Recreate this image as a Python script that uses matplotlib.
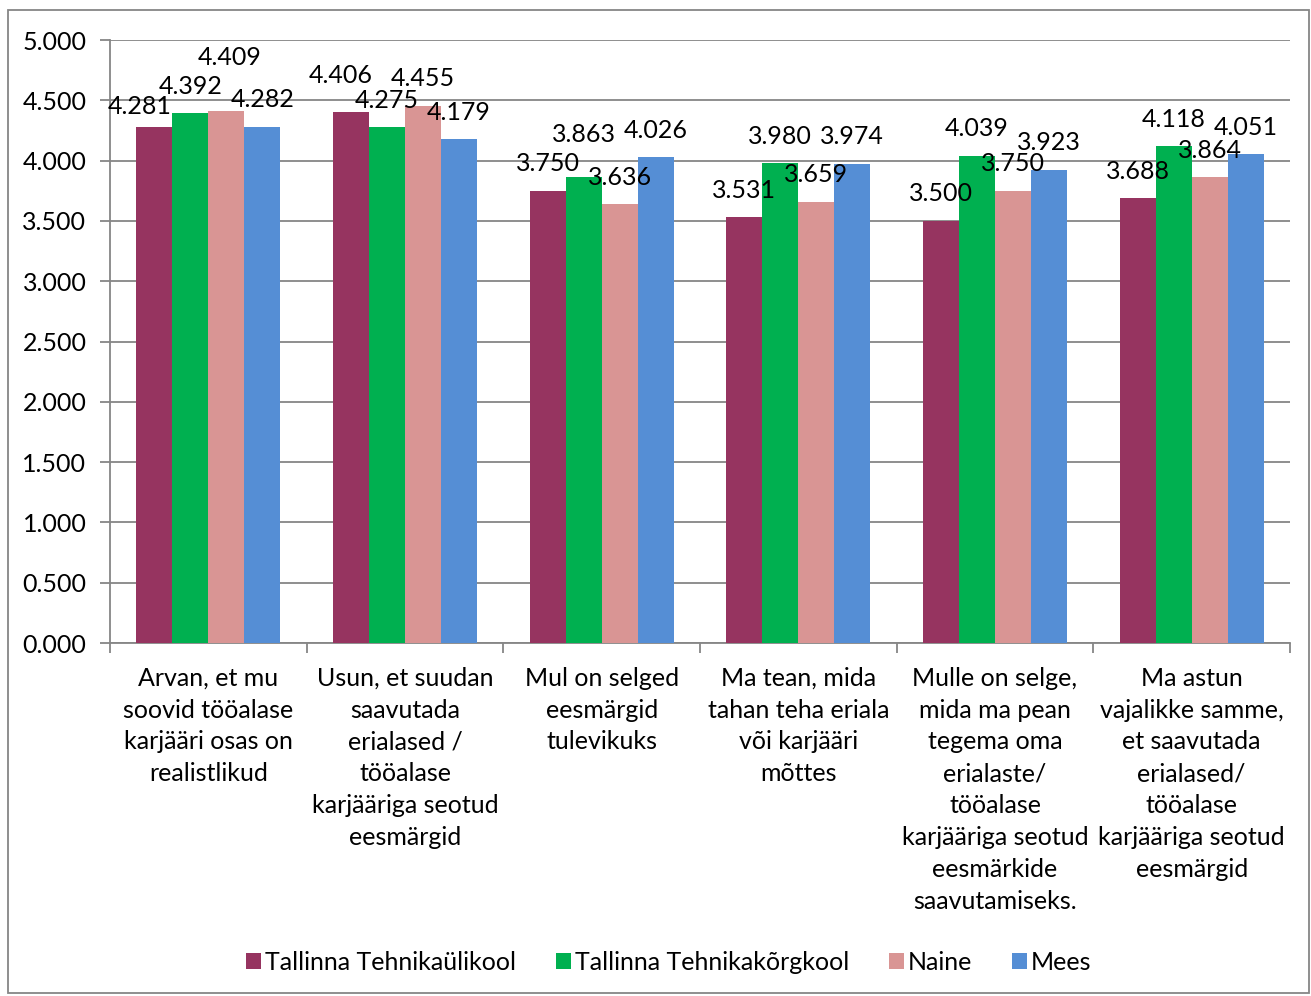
import matplotlib.pyplot as plt
import numpy as np
from matplotlib.patches import Rectangle
from matplotlib.ticker import FuncFormatter, FixedLocator

plt.rcParams['font.family'] = ['Lato', 'DejaVu Sans']

# categories (wrapped the way the original shows them)
categories = [
    "Arvan, et mu\nsoovid tööalase\nkarjääri osas on\nrealistlikud",
    "Usun, et suudan\nsaavutada\nerialased /\ntööalase\nkarjääriga seotud\neesmärgid",
    "Mul on selged\neesmärgid\ntulevikuks",
    "Ma tean, mida\ntahan teha eriala\nvõi karjääri\nmõttes",
    "Mulle on selge,\nmida ma pean\ntegema oma\nerialaste/\ntööalase\nkarjääriga seotud\neesmärkide\nsaavutamiseks.",
    "Ma astun\nvajalikke samme,\net saavutada\nerialased/\ntööalase\nkarjääriga seotud\neesmärgid",
]

series_names = ["Tallinna Tehnikaülikool", "Tallinna Tehnikakõrgkool", "Naine", "Mees"]
ttu = [4.281, 4.406, 3.750, 3.531, 3.500, 3.688]
ttk = [4.392, 4.275, 3.863, 3.980, 4.039, 4.118]
naine = [4.409, 4.455, 3.636, 3.659, 3.750, 3.864]
mees = [4.282, 4.179, 4.026, 3.974, 3.923, 4.051]
yticks = [0.0, 0.5, 1.0, 1.5, 2.0, 2.5, 3.0, 3.5, 4.0, 4.5, 5.0]

colors = ['#963460', '#00B050', '#D99594', '#558ED5']

# label nudges (pixels) for the labels that were moved to avoid overlap
label_dx = {(0, 0): -15, (0, 2): 3, (1, 0): -10}
label_dy = {(0, 0): -7, (0, 2): 27, (1, 0): 9, (2, 1): 16}

W, H = 1311, 996
FS = 18
fig = plt.figure(figsize=(W / 100, H / 100), dpi=100)
fig.patches.append(Rectangle((8 / W, 3 / H), (W - 10) / W, (H - 13) / H,
                             transform=fig.transFigure, fill=False,
                             edgecolor='#868686', lw=1.3))

ax = fig.add_axes([110 / W, 1 - 643 / H, 1180 / W, 603 / H])

series = [ttu, ttk, naine, mees]
x = np.arange(len(categories))
bw = 0.183
px2pt = 72 / 100
for s, (vals, name, col) in enumerate(zip(series, series_names, colors)):
    xs = x + (s - 1.5) * bw
    ax.bar(xs, vals, width=bw, color=col, label=name, zorder=3)
    for i, v in enumerate(vals):
        dx = label_dx.get((i, s), 0)
        dy = 27 + label_dy.get((i, s), 0)
        ax.annotate(f"{v:.3f}", (xs[i], v), xytext=(dx * px2pt, dy * px2pt),
                    textcoords='offset points', ha='center', va='center',
                    fontsize=FS, zorder=4)

ax.set_xlim(-0.5, len(categories) - 0.5)
ax.set_ylim(0, 5)
ax.set_yticks(yticks)
ax.yaxis.set_major_formatter(FuncFormatter(lambda v, p: f"{v:.3f}"))
ax.grid(axis='y', color='#868686', lw=1.3, zorder=0)
ax.set_xticks(x)
ax.set_xticklabels(categories, fontsize=FS, linespacing=1.47)
ax.xaxis.set_minor_locator(FixedLocator(np.arange(-0.5, len(categories), 1)))
ax.tick_params(axis='x', which='major', length=0, pad=17)
ax.tick_params(axis='x', which='minor', length=7, color='#868686', width=1.3)
ax.tick_params(axis='y', length=7, color='#868686', width=1.3, labelsize=FS, pad=10)
for side in ['top', 'right']:
    ax.spines[side].set_visible(False)
for side in ['left', 'bottom']:
    ax.spines[side].set_color('#868686')
    ax.spines[side].set_linewidth(1.3)

fig.legend(loc='center', bbox_to_anchor=(669 / W, 1 - 962 / H), ncol=4,
           frameon=False, fontsize=FS, handlelength=0.6, handleheight=0.6,
           handletextpad=0.15, columnspacing=1.6)

fig.savefig('out.png', dpi=100)
